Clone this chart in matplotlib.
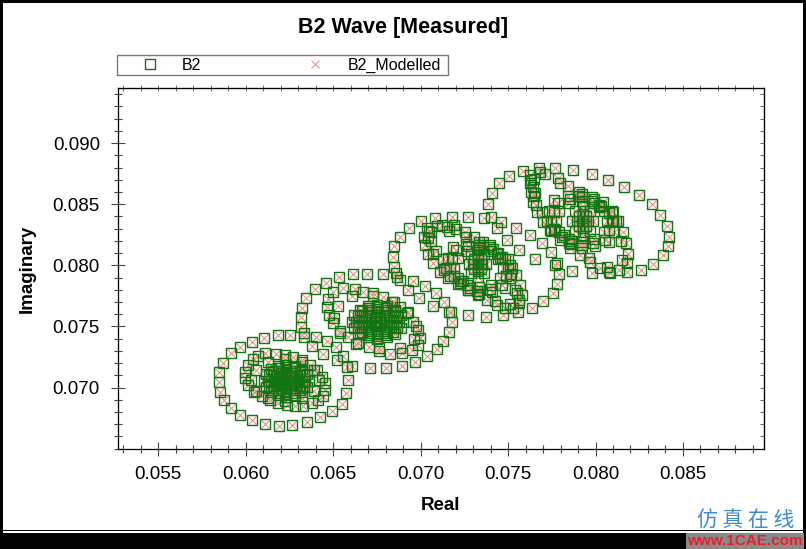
import numpy as np
import matplotlib
matplotlib.use("Agg")
import matplotlib.pyplot as plt
from matplotlib.ticker import MultipleLocator, FormatStrFormatter
from matplotlib.patches import Rectangle

plt.rcParams['font.family'] = ['Liberation Sans', 'DejaVu Sans']

# ---------------- data (Real / Imaginary of B2 wave) ----------------
# cluster 1
c1_outer_re = [0.06256, 0.06184, 0.06108, 0.06035, 0.05969, 0.05917, 0.05873, 0.05849, 0.05849, 0.05854,
               0.05877, 0.05917, 0.05969, 0.06035, 0.06111, 0.06191, 0.06267, 0.06350, 0.06426, 0.06492,
               0.06550, 0.06574, 0.06586, 0.06580, 0.06557, 0.06517, 0.06466, 0.06403, 0.06336]
c1_outer_im = [0.07430, 0.07430, 0.07403, 0.07375, 0.07334, 0.07280, 0.07203, 0.07129, 0.07047, 0.06966,
               0.06898, 0.06830, 0.06775, 0.06734, 0.06701, 0.06685, 0.06691, 0.06720, 0.06761, 0.06810,
               0.06865, 0.06955, 0.07061, 0.07168, 0.07258, 0.07331, 0.07380, 0.07413, 0.07444]
c1_mid_re = [0.06111, 0.06173, 0.06226, 0.06273, 0.06321, 0.06369, 0.06407, 0.06435, 0.06454, 0.06454,
             0.06445, 0.06416, 0.06378, 0.06330, 0.06283, 0.06235, 0.06187, 0.06140, 0.06092, 0.06050,
             0.06016, 0.05997, 0.05997, 0.06013, 0.06045, 0.06073]
c1_mid_im = [0.07280, 0.07274, 0.07266, 0.07247, 0.07225, 0.07184, 0.07143, 0.07088, 0.07034, 0.06980,
             0.06930, 0.06898, 0.06871, 0.06849, 0.06849, 0.06857, 0.06871, 0.06898, 0.06930, 0.06966,
             0.07020, 0.07075, 0.07129, 0.07184, 0.07231, 0.07258]
c1_mid2_re = [0.06420, 0.06394, 0.06323, 0.06226, 0.06129, 0.06058, 0.06032, 0.06058, 0.06129, 0.06226, 0.06323, 0.06394]
c1_mid2_im = [0.07061, 0.07147, 0.07210, 0.07233, 0.07210, 0.07147, 0.07061, 0.06975, 0.06912, 0.06889, 0.06912, 0.06975]
c1_eye_re = [0.06360, 0.06350, 0.06323, 0.06282, 0.06234, 0.06186, 0.06145, 0.06118, 0.06108, 0.06118,
             0.06145, 0.06186, 0.06234, 0.06282, 0.06323, 0.06350,
             0.06340, 0.06332, 0.06309, 0.06275, 0.06234, 0.06193, 0.06159, 0.06136, 0.06128, 0.06136,
             0.06159, 0.06193, 0.06234, 0.06275, 0.06309, 0.06332,
             0.06320, 0.06308, 0.06277, 0.06234, 0.06191, 0.06160, 0.06148, 0.06160, 0.06191, 0.06234, 0.06277, 0.06308]
c1_eye_im = [0.07057, 0.07107, 0.07150, 0.07178, 0.07188, 0.07178, 0.07150, 0.07107, 0.07057, 0.07007,
             0.06964, 0.06936, 0.06926, 0.06936, 0.06964, 0.07007,
             0.07057, 0.07099, 0.07135, 0.07159, 0.07167, 0.07159, 0.07135, 0.07099, 0.07057, 0.07015,
             0.06979, 0.06955, 0.06947, 0.06955, 0.06979, 0.07015,
             0.07057, 0.07102, 0.07135, 0.07147, 0.07135, 0.07102, 0.07057, 0.07012, 0.06979, 0.06967, 0.06979, 0.07012]
c1_pupil_re = [0.06299, 0.06290, 0.06267, 0.06234, 0.06201, 0.06178, 0.06169, 0.06178, 0.06201, 0.06234, 0.06267, 0.06290,
               0.06274, 0.06262, 0.06234, 0.06206, 0.06194, 0.06206, 0.06234, 0.06262, 0.06234,
               0.06254, 0.06248, 0.06234, 0.06220, 0.06214, 0.06220, 0.06234, 0.06248]
c1_pupil_im = [0.07057, 0.07092, 0.07118, 0.07127, 0.07118, 0.07092, 0.07057, 0.07022, 0.06996, 0.06987, 0.06996, 0.07022,
               0.07057, 0.07092, 0.07107, 0.07092, 0.07057, 0.07022, 0.07007, 0.07022, 0.07057,
               0.07057, 0.07075, 0.07082, 0.07075, 0.07057, 0.07039, 0.07032, 0.07039]

# cluster 2
c2_outer_re = [0.06536, 0.06616, 0.06696, 0.06787, 0.06867, 0.06955, 0.07026, 0.07089, 0.07134, 0.07165,
               0.07180, 0.07165, 0.07130, 0.07093, 0.07039, 0.06969, 0.06893, 0.06803, 0.06711, 0.06607,
               0.06521, 0.06445, 0.06378, 0.06334, 0.06315, 0.06315, 0.06321, 0.06346, 0.06397, 0.06460]
c2_outer_im = [0.07902, 0.07929, 0.07929, 0.07929, 0.07907, 0.07874, 0.07831, 0.07771, 0.07702, 0.07620,
               0.07536, 0.07455, 0.07380, 0.07312, 0.07258, 0.07211, 0.07176, 0.07157, 0.07157, 0.07176,
               0.07225, 0.07274, 0.07340, 0.07416, 0.07498, 0.07574, 0.07648, 0.07730, 0.07804, 0.07858]
c2_mid_re = [0.06502, 0.06559, 0.06626, 0.06670, 0.06727, 0.06784, 0.06835, 0.06883, 0.06921, 0.06959,
             0.06988, 0.06997, 0.06988, 0.06950, 0.06893, 0.06826, 0.06765, 0.06707, 0.06645, 0.06588,
             0.06540, 0.06502, 0.06479, 0.06468, 0.06473]
c2_mid_im = [0.07784, 0.07812, 0.07804, 0.07784, 0.07771, 0.07743, 0.07702, 0.07661, 0.07607, 0.07538,
             0.07470, 0.07403, 0.07348, 0.07307, 0.07280, 0.07274, 0.07301, 0.07334, 0.07367, 0.07411,
             0.07465, 0.07525, 0.07593, 0.07661, 0.07722]
c2_mid2_re = [0.06975, 0.06930, 0.06850, 0.06730, 0.06610, 0.06530, 0.06505, 0.06540, 0.06630, 0.06760, 0.06880, 0.06960]
c2_mid2_im = [0.07500, 0.07620, 0.07700, 0.07750, 0.07745, 0.07670, 0.07570, 0.07450, 0.07360, 0.07320, 0.07320, 0.07400]
c2_eye_re = [0.06897, 0.06886, 0.06855, 0.06809, 0.06754, 0.06699, 0.06653, 0.06622, 0.06611, 0.06622,
             0.06653, 0.06699, 0.06754, 0.06809, 0.06855, 0.06886,
             0.06877, 0.06868, 0.06841, 0.06801, 0.06754, 0.06707, 0.06667, 0.06640, 0.06631, 0.06640,
             0.06667, 0.06707, 0.06754, 0.06801, 0.06841, 0.06868,
             0.06857, 0.06843, 0.06806, 0.06754, 0.06702, 0.06665, 0.06651, 0.06665, 0.06702, 0.06754, 0.06806, 0.06843]
c2_eye_im = [0.07540, 0.07593, 0.07638, 0.07668, 0.07679, 0.07668, 0.07638, 0.07593, 0.07540, 0.07487,
             0.07442, 0.07412, 0.07401, 0.07412, 0.07442, 0.07487,
             0.07540, 0.07587, 0.07626, 0.07653, 0.07662, 0.07653, 0.07626, 0.07587, 0.07540, 0.07493,
             0.07454, 0.07427, 0.07418, 0.07427, 0.07454, 0.07493,
             0.07540, 0.07593, 0.07632, 0.07646, 0.07632, 0.07593, 0.07540, 0.07487, 0.07448, 0.07434, 0.07448, 0.07487]
c2_pupil_re = [0.06832, 0.06822, 0.06793, 0.06754, 0.06715, 0.06686, 0.06676, 0.06686, 0.06715, 0.06754, 0.06793, 0.06822,
               0.06804, 0.06789, 0.06754, 0.06719, 0.06704, 0.06719, 0.06754, 0.06789, 0.06754,
               0.06774, 0.06768, 0.06754, 0.06740, 0.06734, 0.06740, 0.06754, 0.06768]
c2_pupil_im = [0.07540, 0.07585, 0.07618, 0.07630, 0.07618, 0.07585, 0.07540, 0.07495, 0.07462, 0.07450, 0.07462, 0.07495,
               0.07540, 0.07597, 0.07620, 0.07597, 0.07540, 0.07483, 0.07460, 0.07483, 0.07540,
               0.07540, 0.07568, 0.07580, 0.07568, 0.07540, 0.07512, 0.07500, 0.07512]

# cluster 3
c3_outer_re = [0.06849, 0.06845, 0.06849, 0.06883, 0.06936, 0.07001, 0.07083, 0.07178, 0.07273, 0.07363,
               0.07458, 0.07546, 0.07626, 0.07693, 0.07744, 0.07778, 0.07793, 0.07782, 0.07755, 0.07702,
               0.07635, 0.07559, 0.07473, 0.07374, 0.07273, 0.07173, 0.07073, 0.06993, 0.06930, 0.06883, 0.06860]
c3_outer_im = [0.07989, 0.08070, 0.08160, 0.08234, 0.08303, 0.08362, 0.08390, 0.08398, 0.08398, 0.08385,
               0.08357, 0.08308, 0.08248, 0.08180, 0.08106, 0.08016, 0.07926, 0.07845, 0.07771, 0.07708,
               0.07653, 0.07620, 0.07593, 0.07580, 0.07593, 0.07620, 0.07669, 0.07730, 0.07798, 0.07880, 0.07934]
c3_mid_re = [0.07035, 0.07092, 0.07150, 0.07203, 0.07254, 0.07306, 0.07359, 0.07413, 0.07464, 0.07511,
             0.07546, 0.07569, 0.07578, 0.07565, 0.07530, 0.07483, 0.07435, 0.07382, 0.07330, 0.07273,
             0.07216, 0.07159, 0.07111, 0.07073, 0.07045, 0.07026, 0.07020]
c3_mid_im = [0.08303, 0.08324, 0.08316, 0.08297, 0.08270, 0.08234, 0.08188, 0.08133, 0.08070, 0.08002,
             0.07921, 0.07839, 0.07757, 0.07689, 0.07648, 0.07648, 0.07675, 0.07716, 0.07757, 0.07798,
             0.07845, 0.07893, 0.07948, 0.08016, 0.08090, 0.08166, 0.08234]
c3_mid2_re = [0.07050, 0.07060, 0.07090, 0.07130, 0.07120, 0.07190, 0.07540, 0.07560,
              0.07060, 0.07165, 0.07262, 0.07355, 0.07440, 0.07518, 0.07550, 0.07510, 0.07425, 0.07320,
              0.07230, 0.07135, 0.07070, 0.07045]
c3_mid2_im = [0.08280, 0.08200, 0.08120, 0.08050, 0.08330, 0.08330, 0.07800, 0.07720,
              0.08273, 0.08280, 0.08233, 0.08150, 0.08050, 0.07925, 0.07775, 0.07680, 0.07710, 0.07790,
              0.07870, 0.07960, 0.08090, 0.08220]
c3_eye_re = [0.07524, 0.07500, 0.07441, 0.07395, 0.07334, 0.07261, 0.07187, 0.07158, 0.07144, 0.07168,
             0.07227, 0.07273, 0.07334, 0.07407, 0.07481, 0.07510,
             0.07499, 0.07482, 0.07435, 0.07392, 0.07334, 0.07271, 0.07205, 0.07182, 0.07169, 0.07190,
             0.07240, 0.07280, 0.07334, 0.07397, 0.07463, 0.07486,
             0.07474, 0.07455, 0.07404, 0.07334, 0.07264, 0.07213, 0.07194, 0.07213, 0.07264, 0.07334, 0.07404, 0.07455]
c3_eye_im = [0.07980, 0.08050, 0.08101, 0.08165, 0.08193, 0.08177, 0.08146, 0.08062, 0.07980, 0.07910,
             0.07859, 0.07795, 0.07767, 0.07783, 0.07814, 0.07898,
             0.07980, 0.08048, 0.08095, 0.08150, 0.08167, 0.08155, 0.08125, 0.08052, 0.07980, 0.07915,
             0.07875, 0.07815, 0.07793, 0.07806, 0.07840, 0.07910,
             0.07980, 0.08060, 0.08119, 0.08140, 0.08119, 0.08060, 0.07980, 0.07900, 0.07841, 0.07820, 0.07841, 0.07900]
c3_pupil_re = [0.07376, 0.07361, 0.07326, 0.07291, 0.07276, 0.07291, 0.07326, 0.07361, 0.07326, 0.07326, 0.07326,
               0.07351, 0.07344, 0.07326, 0.07308, 0.07301, 0.07308, 0.07326, 0.07344]
c3_pupil_im = [0.08013, 0.08091, 0.08123, 0.08091, 0.08013, 0.07935, 0.07903, 0.07935, 0.08013, 0.08060, 0.07966,
               0.08013, 0.08055, 0.08073, 0.08055, 0.08013, 0.07971, 0.07953, 0.07971]

# cluster 4
c4_outer_re = [0.07387, 0.07407, 0.07450, 0.07507, 0.07587, 0.07679, 0.07769, 0.07873, 0.07978, 0.08073,
               0.08163, 0.08250, 0.08321, 0.08369, 0.08407, 0.08422, 0.08416, 0.08384, 0.08330, 0.08260,
               0.08178, 0.08083, 0.07978, 0.07864, 0.07769, 0.07654, 0.07565, 0.07493, 0.07435, 0.07401]
c4_outer_im = [0.08499, 0.08589, 0.08671, 0.08733, 0.08772, 0.08794, 0.08794, 0.08780, 0.08745, 0.08698,
               0.08638, 0.08575, 0.08499, 0.08412, 0.08324, 0.08234, 0.08160, 0.08084, 0.08008, 0.07961,
               0.07943, 0.07935, 0.07935, 0.07953, 0.08002, 0.08052, 0.08125, 0.08207, 0.08303, 0.08398]
c4_mid_re = [0.07626, 0.07711, 0.07788, 0.07845, 0.07908, 0.07978, 0.08041, 0.08093, 0.08130, 0.08155,
             0.08174, 0.08188, 0.08178, 0.08136, 0.08079, 0.08026, 0.07969, 0.07911, 0.07854, 0.07797,
             0.07744, 0.07702, 0.07668, 0.07645, 0.07630, 0.07626]
c4_mid_im = [0.08739, 0.08745, 0.08712, 0.08651, 0.08597, 0.08561, 0.08515, 0.08444, 0.08362, 0.08270,
             0.08180, 0.08090, 0.08016, 0.07961, 0.07948, 0.07980, 0.08029, 0.08084, 0.08144, 0.08207,
             0.08281, 0.08357, 0.08439, 0.08520, 0.08602, 0.08671]
c4_mid2_re = [0.07630, 0.07640, 0.07650, 0.07660, 0.07680,
              0.07650, 0.07795, 0.07905, 0.08020, 0.08100, 0.08145, 0.08150, 0.08065, 0.07960, 0.07860,
              0.07765, 0.07695, 0.07655]
c4_mid2_im = [0.08700, 0.08640, 0.08570, 0.08490, 0.08760,
              0.08705, 0.08675, 0.08565, 0.08490, 0.08362, 0.08195, 0.08045, 0.07985, 0.08060, 0.08175,
              0.08300, 0.08440, 0.08590]
c4_eye_re = [0.08120, 0.08100, 0.08033, 0.07990, 0.07920, 0.07843, 0.07765, 0.07735, 0.07720, 0.07740,
             0.07807, 0.07850, 0.07920, 0.07997, 0.08075, 0.08105,
             0.08092, 0.08075, 0.08020, 0.07980, 0.07920, 0.07854, 0.07786, 0.07761, 0.07748, 0.07768,
             0.07820, 0.07862, 0.07920, 0.07986, 0.08054, 0.08079,
             0.08065, 0.08046, 0.07993, 0.07920, 0.07847, 0.07794, 0.07775, 0.07794, 0.07847, 0.07920, 0.07993, 0.08046]
c4_eye_im = [0.08360, 0.08440, 0.08485, 0.08545, 0.08580, 0.08564, 0.08532, 0.08444, 0.08360, 0.08285,
             0.08235, 0.08180, 0.08140, 0.08156, 0.08188, 0.08276,
             0.08360, 0.08430, 0.08475, 0.08530, 0.08555, 0.08540, 0.08512, 0.08435, 0.08360, 0.08292,
             0.08250, 0.08195, 0.08165, 0.08180, 0.08208, 0.08290,
             0.08360, 0.08445, 0.08507, 0.08530, 0.08507, 0.08445, 0.08360, 0.08275, 0.08213, 0.08190, 0.08213, 0.08275]
c4_pupil_re = [0.07986, 0.07968, 0.07926, 0.07884, 0.07866, 0.07884, 0.07926, 0.07968, 0.07926, 0.07926, 0.07926,
               0.07956, 0.07947, 0.07926, 0.07905, 0.07896, 0.07905, 0.07926, 0.07947]
c4_pupil_im = [0.08362, 0.08447, 0.08482, 0.08447, 0.08362, 0.08277, 0.08242, 0.08277, 0.08362, 0.08420, 0.08304,
               0.08362, 0.08404, 0.08422, 0.08404, 0.08362, 0.08320, 0.08302, 0.08320]

xticks = [0.055, 0.060, 0.065, 0.070, 0.075, 0.080, 0.085]
yticks = [0.070, 0.075, 0.080, 0.085, 0.090]

b2_re = np.concatenate([c1_outer_re, c1_mid_re, c1_mid2_re, c1_eye_re, c1_pupil_re,
                        c2_outer_re, c2_mid_re, c2_mid2_re, c2_eye_re, c2_pupil_re,
                        c3_outer_re, c3_mid_re, c3_mid2_re, c3_eye_re, c3_pupil_re,
                        c4_outer_re, c4_mid_re, c4_mid2_re, c4_eye_re, c4_pupil_re])
b2_im = np.concatenate([c1_outer_im, c1_mid_im, c1_mid2_im, c1_eye_im, c1_pupil_im,
                        c2_outer_im, c2_mid_im, c2_mid2_im, c2_eye_im, c2_pupil_im,
                        c3_outer_im, c3_mid_im, c3_mid2_im, c3_eye_im, c3_pupil_im,
                        c4_outer_im, c4_mid_im, c4_mid2_im, c4_eye_im, c4_pupil_im])
# modelled values coincide with the measured ones at this resolution
mod_re = b2_re
mod_im = b2_im

# ---------------- figure ----------------
W, H = 806, 549
fig = plt.figure(figsize=(W / 100, H / 100), dpi=100, facecolor='white')
ax = fig.add_axes([118 / W, 1 - 449 / H, (764 - 118) / W, (449 - 88) / H])

green = '#127512'
red = '#ec8a82'
l_mod, = ax.plot(mod_re, mod_im, ls='none', marker='x', ms=5.5, mec=red, mew=0.75, zorder=2,
                 label='B2_Modelled')
l_b2, = ax.plot(b2_re, b2_im, ls='none', marker='s', ms=7, mfc='none', mec=green, mew=1.0,
                zorder=3, label='B2')

ax.set_xlim(0.05271, 0.08963)
ax.set_ylim(0.06497, 0.09451)
ax.set_xticks(xticks)
ax.set_yticks(yticks)
ax.xaxis.set_minor_locator(MultipleLocator(0.001))
ax.yaxis.set_minor_locator(MultipleLocator(0.001))
ax.xaxis.set_major_formatter(FormatStrFormatter('%.3f'))
ax.yaxis.set_major_formatter(FormatStrFormatter('%.3f'))
ax.tick_params(axis='both', which='major', direction='inout', length=10, width=0.8,
               color='#444444', labelsize=13.5)
ax.tick_params(axis='both', which='minor', direction='inout', length=5.5, width=0.8, color='#444444')
ax.tick_params(axis='x', which='major', pad=7)
ax.tick_params(axis='y', which='major', pad=8)
for s in ax.spines.values():
    s.set_linewidth(0.9)
    s.set_color('black')

secx = ax.secondary_xaxis('top')
secx.xaxis.set_major_locator(MultipleLocator(0.005))
secx.xaxis.set_minor_locator(MultipleLocator(0.001))
secx.tick_params(axis='x', which='both', direction='inout', length=4, width=0.7,
                 color='#666666', labeltop=False)
secy = ax.secondary_yaxis('right')
secy.yaxis.set_major_locator(MultipleLocator(0.005))
secy.yaxis.set_minor_locator(MultipleLocator(0.001))
secy.tick_params(axis='y', which='both', direction='in', length=3, width=0.7,
                 color='#666666', labelright=False)

ax.set_xlabel('Real', fontsize=13.5, fontweight='bold')
ax.xaxis.label.set_va('center')
ax.xaxis.set_label_coords(0.5, (449 - 506) / (449 - 88))
ax.set_ylabel('Imaginary', fontsize=13.5, fontweight='bold')
ax.yaxis.label.set_va('center')
ax.yaxis.set_label_coords((27 - 118) / (764 - 118), 0.5)

fig.text(403 / W, 1 - 28 / H, 'B2 Wave [Measured]', ha='center', va='center',
         fontsize=15.5, fontweight='bold')

# legend box
fig.patches.append(Rectangle((117 / W, 1 - 75 / H), 331 / W, 20 / H, transform=fig.transFigure,
                             facecolor='white', edgecolor='#7a7a7a', lw=1.0, zorder=1))
leg = fig.legend(handles=[l_b2, l_mod], labels=['B2', 'B2_Modelled'], ncol=2,
                 loc='center left', bbox_to_anchor=(126 / W, 1 - 65.5 / H),
                 frameon=False, fontsize=11.5, borderpad=0, handlelength=2.0,
                 handletextpad=1.0, columnspacing=6.15, markerscale=1.0)

# frame border / bottom bar as in the source image
black = dict(transform=fig.transFigure, facecolor='black', edgecolor='none', zorder=5)
fig.patches.append(Rectangle((0, 1 - 3 / H), 1, 3 / H, **black))
fig.patches.append(Rectangle((0, 0), 3 / W, 1, **black))
fig.patches.append(Rectangle((1 - 3 / W, 0), 3 / W, 1, **black))
fig.patches.append(Rectangle((0, 0), 1, 16 / H, **black))
fig.patches.append(Rectangle((0, 1 - 531 / H), 1, 1.2 / H, **black))
fig.patches.append(Rectangle((686 / W, 0), 118 / W, 16 / H, transform=fig.transFigure,
                             facecolor='#8a8a8a', edgecolor='none', zorder=6))

fig.text(746 / W, 1 - 521 / H, '仿 真 在 线', color='#3a8ad6', fontsize=15,
         family=['Noto Sans CJK SC', 'DejaVu Sans'], ha='center', va='center', zorder=7)
fig.text(745 / W, 1 - 541 / H, 'www.1CAE.com', color='#e8202a', fontsize=11,
         fontweight='bold', ha='center', va='center', zorder=7)

fig.savefig('out.png', dpi=100, facecolor='white')
